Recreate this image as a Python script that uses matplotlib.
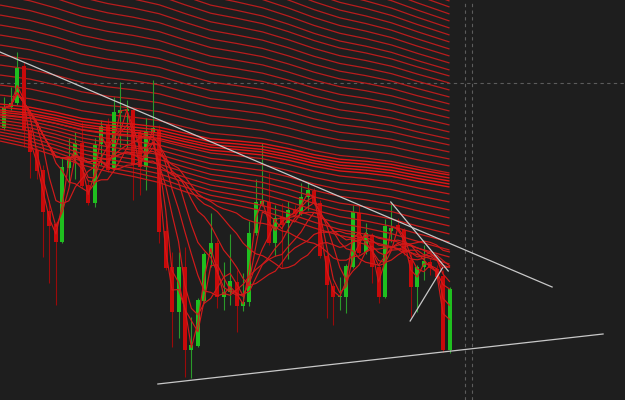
import matplotlib
matplotlib.use("Agg")
import matplotlib.pyplot as plt
import numpy as np
import pandas as pd

# ---- candle data (price units) ----
opens = [27.2, 29.3, 29.7, 33.4, 27.0, 25.0, 23.0, 18.9, 17.6, 15.8,
         23.2, 24.3, 25.7, 21.5, 19.7, 25.6, 27.5, 23.1, 28.7, 28.9,
         29.0, 26.7, 23.3, 26.7, 27.0, 16.9, 13.3, 8.8, 13.3, 5.0,
         5.4, 9.9, 14.6, 15.7, 10.3, 10.8, 11.8, 9.4, 9.8, 16.7,
         19.6, 19.8, 15.7, 18.3, 17.7, 19.1, 18.6, 20.3, 20.9, 19.7,
         14.4, 11.4, 10.3, 10.3, 13.3, 18.7, 14.8, 16.5, 13.3, 10.3,
         16.9, 17.5, 17.0, 14.0, 11.3, 13.3, 13.8, 13.1, 12.4, 5.0]
closes = [29.2, 29.7, 33.2, 27.0, 24.8, 22.9, 18.8, 17.4, 15.8, 23.3,
          24.3, 25.7, 21.4, 19.7, 25.5, 27.4, 23.0, 28.8, 29.0, 29.1,
          23.5, 23.3, 26.8, 27.2, 16.8, 13.2, 8.8, 13.3, 5.0, 5.5,
          10.0, 14.6, 15.7, 10.3, 10.8, 11.9, 9.4, 9.8, 16.7, 19.8,
          19.9, 15.7, 18.2, 17.5, 19.0, 18.6, 20.3, 21.0, 19.7, 14.4,
          11.5, 10.3, 10.4, 13.4, 18.8, 14.7, 16.7, 13.3, 10.3, 17.4,
          17.2, 17.0, 14.7, 11.3, 13.3, 13.9, 13.2, 12.3, 5.0, 11.1]
highs = [30.3, 31.3, 34.8, 33.8, 27.2, 25.2, 23.5, 20.0, 17.8, 24.2,
         26.2, 26.8, 27.8, 22.0, 26.2, 28.0, 28.2, 30.3, 31.8, 30.0,
         29.2, 27.0, 28.2, 32.0, 27.5, 18.0, 14.8, 14.8, 15.3, 8.3,
         10.2, 14.8, 18.7, 16.0, 13.8, 16.6, 13.0, 12.7, 17.9, 22.1,
         25.7, 22.7, 19.5, 19.7, 19.9, 19.5, 21.7, 21.8, 21.2, 20.0,
         14.6, 11.7, 12.3, 13.6, 19.5, 19.5, 17.7, 16.7, 13.5, 18.1,
         19.8, 18.2, 17.2, 14.8, 13.5, 15.5, 14.2, 13.5, 13.0, 11.3]
lows = [27.0, 29.0, 29.5, 25.3, 22.2, 22.1, 14.3, 11.7, 9.5, 15.7,
        21.7, 22.1, 21.2, 19.5, 19.3, 23.5, 22.8, 23.0, 25.3, 25.2,
        20.0, 20.5, 21.0, 26.5, 15.7, 13.0, 5.3, 6.2, 2.3, 2.2,
        5.3, 9.7, 13.3, 9.2, 9.0, 9.5, 6.8, 8.9, 9.4, 16.5,
        19.4, 15.5, 14.4, 13.3, 14.1, 18.4, 18.5, 19.0, 19.5, 14.2,
        8.2, 7.5, 9.0, 8.7, 13.2, 14.5, 14.6, 11.7, 9.7, 10.2,
        15.8, 16.8, 14.5, 8.3, 8.8, 12.0, 12.5, 12.1, 4.8, 4.7]

# moving-average periods drawn from the closes
ma_windows = [2, 3, 5, 8, 11, 15, 20, 28]

# long-period ribbon lines: level at left edge and at last candle
ribbon_start = [30.5, 31.5, 32.5, 33.5, 34.5, 35.5, 36.5, 37.5, 38.5, 39.5,
                40.5, 41.5, 42.5, 43.5, 44.5, 45.5, 46.5, 47.5, 48.5, 49.5,
                50.5, 51.5, 52.5, 53.5, 54.5, 55.5, 56.5]
ribbon_end = [22.7, 23.4, 24.1, 24.8, 25.5, 26.1, 26.8, 27.5, 28.2, 28.9,
              29.6, 30.3, 31.0, 31.7, 32.4, 33.0, 33.7, 34.4, 35.1, 35.8,
              36.5, 37.2, 37.9, 38.6, 39.3, 39.9, 40.6]
band_start = [29.6, 29.3, 29.0, 28.8, 28.5]
band_end = [22.5, 22.2, 21.9, 21.6, 21.3]
mid_start = [28.6, 28.3, 28.0, 27.7, 27.4, 27.1, 26.8, 26.5, 26.2, 25.9]
mid_end = [20.6, 19.8, 19.0, 18.2, 17.4, 16.6, 15.8, 15.0, 14.3, 13.6]
wave_x = [-0.67, 4, 8, 12, 16, 20, 24, 28, 32, 36, 40, 44, 48, 52, 56, 60, 64, 69]
wave = [0.0, 0.15, 0.05, -0.15, -0.1, 0.1, 0.2, 0.0, -0.15, 0.05, 0.2, 0.1,
        -0.1, -0.15, 0.05, 0.15, 0.05, 0.0]

# drawn trend lines ((x0, y0), (x1, y1))
trend_lines = [((-0.67, 34.8), (84.9, 11.3)),
               ((23.8, 1.6), (92.8, 6.6)),
               ((59.9, 19.8), (68.8, 12.9)),
               ((62.9, 7.9), (67.9, 13.2))]
grid_h = [31.75]
grid_v = [71.43, 72.5]

bg = "#1e1e1e"
fig = plt.figure(figsize=(6.25, 4), dpi=100)
fig.patch.set_facecolor(bg)
ax = fig.add_axes([0, 0, 1, 1])
ax.set_facecolor(bg)
ax.set_xlim(-0.667, 96.2)
ax.set_ylim(0, 40)
ax.axis("off")

# grid
for y in grid_h:
    ax.axhline(y, color="#5c5c5c", lw=0.8, ls=(0, (3, 3)), zorder=1)
for x in grid_v:
    ax.axvline(x, color="#5c5c5c", lw=0.8, ls=(0, (3, 3)), zorder=1)

wx = np.array(wave_x)
wv = np.array(wave)
frac = (wx - wx[0]) / (wx[-1] - wx[0])

def ribbon(starts, ends, color, lw, z):
    for s, e in zip(starts, ends):
        ax.plot(wx, s + (e - s) * frac + wv, color=color, lw=lw, zorder=z,
                solid_capstyle="butt", solid_joinstyle="round")

ribbon(ribbon_start, ribbon_end, "#b81c1c", 0.9, 2)
ribbon(band_start, band_end, "#e01515", 1.0, 4)
ribbon(mid_start, mid_end, "#c81a1a", 0.9, 4)

# candles
idx = np.arange(len(opens))
o = np.array(opens); c = np.array(closes)
h = np.array(highs); l = np.array(lows)
up = c >= o
body_col = np.where(up, "#1fbf1f", "#c80a0a")
wick_col = np.where(up, "#2a9a2a", "#9a0a0a")
ax.vlines(idx, l, h, colors=wick_col, lw=0.8, zorder=3)
bottom = np.minimum(o, c)
height = np.maximum(np.abs(c - o), 0.15)
ax.bar(idx, height, bottom=bottom, width=0.62, color=body_col, lw=0, zorder=3)

# moving averages
cs = pd.Series(closes)
for w in ma_windows:
    ma = cs.rolling(w, min_periods=1).mean()
    ax.plot(idx, ma, color="#d21a1a", lw=0.85, zorder=5)

# trend lines
for (x0, y0), (x1, y1) in trend_lines:
    ax.plot([x0, x1], [y0, y1], color="#c8c8c8", lw=0.9, zorder=6)

fig.savefig("out.png", dpi=100, facecolor=bg)
